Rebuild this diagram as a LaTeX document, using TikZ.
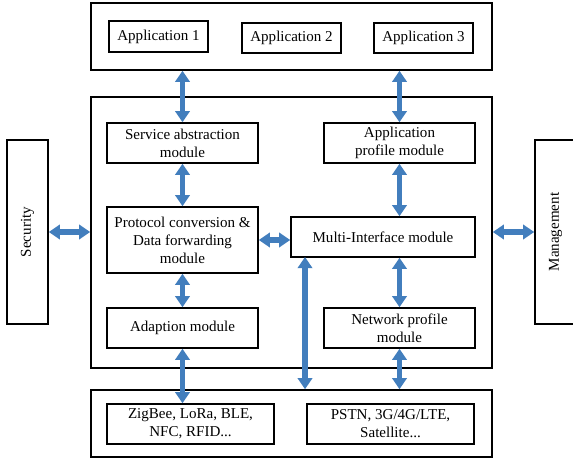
\documentclass[tikz,border=0pt]{standalone}
\usepackage{fontspec}
\setmainfont{Liberation Serif}
\usepackage{xcolor}
\usepackage{tikz}
\usetikzlibrary{arrows.meta, positioning}

\definecolor{arrowblue}{RGB}{66,126,189}

\begin{document}
\begin{tikzpicture}[
        x=0.25mm, y=-0.25mm,
        font=\fontsize{10.7}{12.8}\selectfont,
        box/.style={rectangle, draw, line width=1.1pt, align=center, inner sep=1pt},
        layer/.style={rectangle, draw, line width=1.1pt, minimum width=100.25mm},
        module/.style={box, minimum width=37.75mm, minimum height=10mm},
        arrow/.style={draw=arrowblue, line width=4.2pt,
            {Triangle[width=3.6mm,length=2.8mm]}-{Triangle[width=3.6mm,length=2.8mm]}}
    ]
        \useasboundingbox (0,0) rectangle (573,462);
        % layers
        \node[layer, minimum height=16.75mm] (top) at (291.5,36.5) {};
        \node[layer, minimum height=67.75mm] (main) at (291.5,232.5) {};
        \node[layer, minimum height=16.75mm] (bottom) at (291.5,423.5) {};
        \node[box, minimum width=10.25mm, minimum height=46mm] (sec) at (27.5,232) {};
        \node[rotate=90] at (sec) {Security};
        \node[box, minimum width=10.25mm, minimum height=46mm] (mgt) at (555.5,232) {};
        \node[rotate=90] at (mgt) {Management};
        % applications
        \node[box, minimum width=24.75mm, minimum height=7.75mm] (app1) at (158.5,36.5) {Application 1};
        \node[box, minimum width=24.75mm, minimum height=7.5mm] (app2) at (291.5,38) {Application 2};
        \node[box, minimum width=24.75mm, minimum height=7.5mm] (app3) at (423.5,38) {Application 3};
        % modules
        \node[module] (sam) at (182.5,143) {Service abstraction\\module};
        \node[module] (apm) at (399.5,143) {Application\\profile module};
        \node[module, minimum height=16.5mm] (pcm) at (182.5,240) {Protocol conversion \&\\Data forwarding\\module};
        \node[module, minimum width=46mm] (mim) at (383,237) {Multi-Interface module};
        \node[module] (adm) at (182.5,328) {Adaption module};
        \node[module] (npm) at (399.5,328) {Network profile\\module};
        % networks
        \node[box, minimum width=41.75mm, minimum height=10mm] (wsn) at (190.5,424) {ZigBee, LoRa, BLE,\\NFC, RFID...};
        \node[box, minimum width=41.75mm, minimum height=10mm] (wan) at (390.5,424) {PSTN, 3G/4G/LTE,\\Satellite...};
        \coordinate (mid) at (305,257);
        \draw[arrow] (sam.north |- top.south) -- (sam.north);
        \draw[arrow] (apm.north |- top.south) -- (apm.north);
        \draw[arrow] (sam) -- (pcm);
        \draw[arrow] (apm) -- (apm |- mim.north);
        \draw[arrow] (pcm.east) -- (pcm.east -| mim.west);
        \draw[arrow] (pcm) -- (adm);
        \draw[arrow] (npm |- mim.south) -- (npm);
        \draw[arrow] (adm.south) -- (adm.south |- wsn.north);
        \draw[arrow] (npm.south) -- (npm.south |- bottom.north);
        \draw[arrow] (mid) -- (mid |- bottom.north);
        \draw[arrow] (sec.east) -- (sec.east -| main.west);
        \draw[arrow] (main.east |- mgt.west) -- (mgt.west);
    \end{tikzpicture}
\end{document}
